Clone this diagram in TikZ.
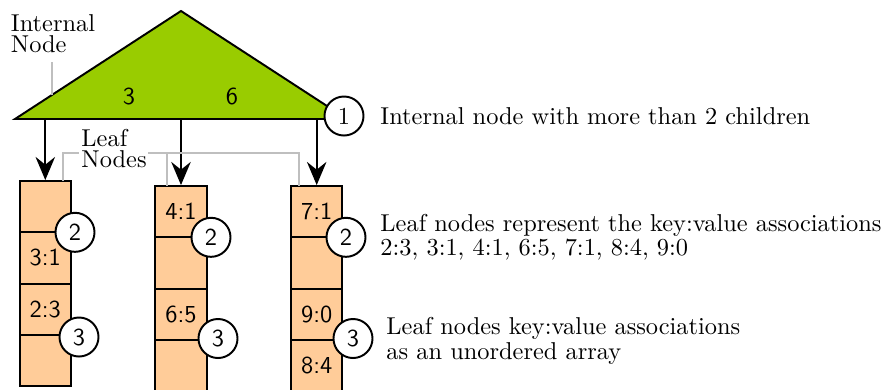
\documentclass[tikz,border=0pt]{standalone}
\usetikzlibrary{arrows.meta,calc}
\definecolor{trigreen}{RGB}{153,204,0}
\definecolor{leaforange}{RGB}{255,204,153}
\definecolor{pingray}{RGB}{191,191,191}
\begin{document}
\begin{tikzpicture}[x=0.41pt,y=-0.41pt,
  cell/.style={draw,line width=0.8pt,fill=leaforange,minimum width=21.1pt,minimum height=21.0pt,inner sep=0pt,font=\sffamily},
  num/.style={circle,draw,line width=0.8pt,fill=white,minimum size=16pt,inner sep=0pt},
  conn/.style={line width=0.8pt,-{Stealth[length=9.5pt,width=8pt,inset=3.2pt]}},
  pinline/.style={draw=pingray,line width=0.7pt},
  note/.style={align=left,inner sep=0pt,font=\fontsize{10}{8.7}\selectfont}]
\useasboundingbox (0,0) rectangle (886,389);

% internal node (triangle)
\coordinate (tl) at (15,119);
\coordinate (tt) at (181,11);
\coordinate (tr) at (347,119);
\draw[line width=0.8pt,fill=trigreen] (tl) -- (tt) -- (tr) -- cycle;
\node[font=\sffamily] (k3) at (129,96) {3};
\node[font=\sffamily] (k6) at (232,96) {6};
\coordinate (b1) at (45.3,119);
\coordinate (b2) at (181,119);
\coordinate (b3) at (316.7,119);

% leaf 1
\node[cell] (l1a) at (45.3,206.65) {};
\node[cell] (l1b) at (45.3,257.95) {3:1};
\node[cell] (l1c) at (45.3,309.25) {2:3};
\node[cell] (l1d) at (45.3,360.55) {};
% leaf 2
\node[cell] (l2a) at (181,211.65) {4:1};
\node[cell] (l2b) at (181,262.95) {};
\node[cell] (l2c) at (181,314.25) {6:5};
\node[cell] (l2d) at (181,365.55) {};
% leaf 3
\node[cell] (l3a) at (316.7,211.65) {7:1};
\node[cell] (l3b) at (316.7,262.95) {};
\node[cell] (l3c) at (316.7,314.25) {9:0};
\node[cell] (l3d) at (316.7,365.55) {8:4};

% arrows
\draw[conn] (b1) -- (l1a.north);
\draw[conn] (b2) -- (l2a.north);
\draw[conn] (b3) -- (l3a.north);

% labels
\node[note,anchor=north west] (inl) at (10.5,14) {Internal\\Node};
\coordinate (ine) at ($(tl)!0.225!(tt)$);
\draw[pinline] (ine) -- ([yshift=-3.4pt]ine |- inl.south);

\node[note,anchor=north west] (lnl) at (81,129) {Leaf\\Nodes};
\coordinate (g1) at (63,181);
\coordinate (g2) at (167,186);
\coordinate (g3) at (299,186);
\coordinate (hl) at (79,153.3);
\coordinate (hr) at (148,153.3);
\draw[pinline] (g1) |- (hl);
\draw[pinline] (hr) -| (g3);
\draw[pinline] (g2 |- hr) -- (g2);

% numbered circles
\node[num] (c1) at (344,116) {1};
\node[num,font=\sffamily] (c12) at (75,232.3) {2};
\node[num,font=\sffamily] (c13) at (79,337) {3};
\node[num,font=\sffamily] (c22) at (211,237.3) {2};
\node[num,font=\sffamily] (c23) at (218,338.5) {3};
\node[num,font=\sffamily] (c32) at (346,237.3) {2};
\node[num,font=\sffamily] (c33) at (353,338.5) {3};

% notes
\node[note,anchor=west] (t1) at (380,116) {Internal node with more than 2 children};
\node[note,anchor=north west] (t2) at (380,214) {Leaf nodes represent the key:value associations\\2:3, 3:1, 4:1, 6:5, 7:1, 8:4, 9:0};
\node[note,anchor=north west] (t3) at (386,317) {Leaf nodes key:value associations\\as an unordered array};
\end{tikzpicture}
\end{document}
